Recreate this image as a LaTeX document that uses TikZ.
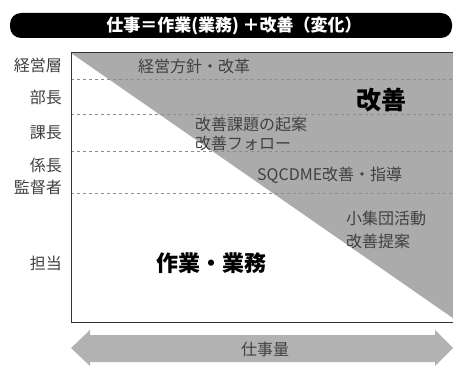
\documentclass[tikz,border=0pt]{standalone}
\usepackage{fontspec}
\setmainfont{Noto Sans CJK JP}
\begin{document}
\begin{tikzpicture}[x=1pt,y=-1pt,
  lbl/.style={font=\fontsize{16}{18}\selectfont, text=black!75, inner sep=0pt},
  rlbl/.style={lbl, anchor=east},
  inlbl/.style={lbl, anchor=west},
  levelline/.style={draw=black!45, dashed, line width=0.6pt}]
\useasboundingbox (0,0) rectangle (453,369);
\clip (0,0) rectangle (453,369);
% title bar
\fill[black, rounded corners=11pt] (10,13) rectangle (452,38);
\node[font=\fontsize{17}{19}\selectfont\bfseries, text=white, inner sep=0pt] (title) at (234,26) {仕事＝作業(業務) ＋改善（変化）};
% gray triangle
\fill[black!33] (71,53) -- (460,53) -- (460,323) -- cycle;
% dashed lines
\foreach \yy in {79,114,151,193} \draw[levelline] (71,\yy) -- (453,\yy);
% box
\draw[black!80, line width=1pt] (453,53) -- (71,53) -- (71,322) -- (453,322);
% left labels
\node[rlbl] (l1) at (62,65) {経営層};
\node[rlbl] (l2) at (62,97) {部長};
\node[rlbl] (l3) at (62,133) {課長};
\node[rlbl] (l4) at (62,165) {係長};
\node[rlbl] (l5) at (62,187) {監督者};
\node[rlbl] (l6) at (62,263) {担当};
% inner labels
\node[inlbl] (t1) at (138,66) {経営方針・改革};
\node[lbl, font=\fontsize{25}{27}\selectfont\bfseries, text=black] (kaizen) at (381,100) {改善};
\node[inlbl] (t2) at (195,124) {改善課題の起案};
\node[inlbl] (t3) at (195,143) {改善フォロー};
\node[inlbl] (t4) at (257,175) {SQCDME改善・指導};
\node[inlbl] (t5) at (346,218) {小集団活動};
\node[inlbl] (t6) at (346,241) {改善提案};
\node[lbl, font=\fontsize{22}{24}\selectfont\bfseries, text=black] (sagyo) at (211,263) {作業・業務};
% bottom arrow
\fill[black!30] (71,348) -- (90,330) -- (90,335) -- (435,335) -- (435,330) -- (453,348)
  -- (435,366) -- (435,362) -- (90,362) -- (90,366) -- cycle;
\node[lbl] (ryo) at (265,349) {仕事量};
\end{tikzpicture}
\end{document}
